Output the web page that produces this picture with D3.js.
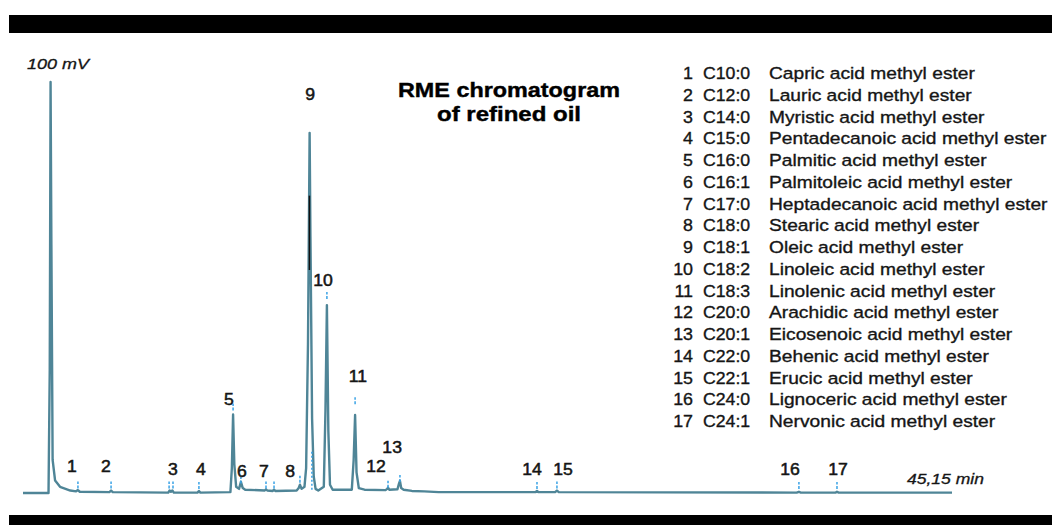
<!DOCTYPE html>
<html><head><meta charset="utf-8">
<script src="https://cdn.jsdelivr.net/npm/d3@7"></script>
<style>
html,body{margin:0;padding:0;background:#fff;}
svg{display:block;}
</style>
</head><body>
<svg id="chart" width="1052" height="525"></svg>
<script>
// ---- data ----
const traceTime = [0, 1.24, 1.30, 1.34, 1.38, 1.44, 1.56, 1.8, 2.3, 2.58, 2.67, 2.76, 4.2, 4.28, 4.36, 7.06, 7.12, 7.19, 7.26, 7.33, 8.48, 8.55, 8.62,
  10.08, 10.15, 10.21, 10.27, 10.36, 10.5, 10.59, 10.68, 10.8, 11.75, 11.81, 11.87, 12.14, 12.2, 12.26, 13.3, 13.4, 13.46, 13.54, 13.68,
  13.76, 13.85, 13.93, 13.97, 14.05, 14.13, 14.22, 14.35, 14.62, 14.7, 14.77, 14.84, 14.92, 15.05, 15.98, 16.07, 16.14, 16.21, 16.32, 16.6,
  17.62, 17.7, 17.74, 17.8, 18.2, 18.27, 18.32, 18.38, 18.5, 18.9, 19.5, 20.2, 24.9, 24.98, 25.06, 25.86, 25.95, 26.04, 37.6, 37.71, 37.8, 39.5, 39.56, 39.64, 45.15];
const traceMv = [0, 0, 30, 99.5, 60, 8, 3, 1.5, 0.6, 0.4, 0.7, 0.3, 0.2, 0.6, 0.2, 0.1, 0.6, 0.3, 0.6, 0.1, 0.1, 0.5, 0.1,
  0.2, 6, 19, 7, 1.5, 1, 2.7, 1.2, 0.8, 0.6, 0.9, 0.6, 0.5, 0.8, 0.5, 0.6, 1.2, 2.0, 1.0, 1.5,
  6, 36, 87.2, 62, 18, 4, 1, 0.6, 1.5, 20, 45.5, 15, 2, 0.8, 0.8, 8, 18.9, 5, 1.2, 0.8,
  0.7, 1.0, 1.3, 0.8, 0.9, 2.2, 2.9, 1.2, 0.8, 0.5, 0.4, 0.2, 0.2, 0.5, 0.2, 0.2, 0.6, 0.2, 0.1, 0.3, 0.1, 0.1, 0.3, 0.1, 0.1];

const peakNumbers = ["1","2","3","4","5","6","7","8","9","10","11","12","13","14","15","16","17"];
const labelTime = [2.38, 4.03, 7.29, 8.65, 10.01, 10.64, 11.71, 12.98, 13.95, 14.58, 16.28, 17.16, 17.94, 24.74, 26.24, 37.28, 39.61];
const labelMv  = [5.1, 5.1, 4.4, 4.4, 21.3, 3.9, 3.9, 3.9, 95.2, 50.1, 26.9, 5.1, 9.7, 4.4, 4.4, 4.4, 4.4];

const markerTime = [2.67, 4.28, 7.10, 7.29, 8.55, 10.21, 10.59, 11.81, 12.20, 13.46, 14.77, 16.14, 17.74, 18.32, 24.98, 25.95, 37.71, 39.56];
const markerMv   = [0.6, 0.6, 0.6, 0.6, 0.5, 19.5, 1.8, 0.6, 0.6, 2.0, 46.5, 21, 0.8, 2.2, 0.5, 0.6, 0.5, 0.5];

const legendCodes = ["C10:0","C12:0","C14:0","C15:0","C16:0","C16:1","C17:0","C18:0","C18:1","C18:2","C18:3","C20:0","C20:1","C22:0","C22:1","C24:0","C24:1"];
const legendNames = ["Capric acid methyl ester","Lauric acid methyl ester","Myristic acid methyl ester","Pentadecanoic acid methyl ester",
  "Palmitic acid methyl ester","Palmitoleic acid methyl ester","Heptadecanoic acid methyl ester","Stearic acid methyl ester",
  "Oleic acid methyl ester","Linoleic acid methyl ester","Linolenic acid methyl ester","Arachidic acid methyl ester",
  "Eicosenoic acid methyl ester","Behenic acid methyl ester","Erucic acid methyl ester","Lignoceric acid methyl ester","Nervonic acid methyl ester"];

const timeDomain = [0, 45.15];
const mvDomain = [0, 100];
const titleLines = ["RME chromatogram", "of refined oil"];
const yUnitLabel = "100 mV";
const xEndLabel = "45,15 min";

// ---- drawing ----
const svg = d3.select("#chart");
const x = d3.scaleLinear().domain(timeDomain).range([23, 952]);
const y = d3.scaleLinear().domain(mvDomain).range([493, 80]);
const FONT = "Liberation Sans, Arial, sans-serif";
const INK = "#151515";

svg.append("rect").attr("x",0).attr("y",0).attr("width",1052).attr("height",525).attr("fill","#fff");
// black frame bars
svg.append("rect").attr("x",9).attr("y",15).attr("width",1043).attr("height",18).attr("fill","#000");
svg.append("rect").attr("x",9).attr("y",515).attr("width",1043).attr("height",10).attr("fill","#000");

const trace = traceTime.map((t,i)=>[t, traceMv[i]]);
svg.append("path").datum(trace)
  .attr("d", d3.line().x(d=>x(d[0])).y(d=>y(d[1])))
  .attr("fill","none").attr("stroke","#4f8597").attr("stroke-width",2.4).attr("stroke-linejoin","round");

// darker integration segment on peak 9
svg.append("line").attr("x1",x(13.92)).attr("x2",x(13.92)).attr("y1",y(72)).attr("y2",y(54))
  .attr("stroke","#111").attr("stroke-width",1.5);

// blue retention markers
svg.append("g").selectAll("line").data(markerTime).join("line")
  .attr("x1",d=>x(d)).attr("x2",d=>x(d))
  .attr("y1",(d,i)=>y(markerMv[i])-2).attr("y2",(d,i)=>y(markerMv[i])-9)
  .attr("stroke","#3aa3e6").attr("stroke-width",1.5).attr("stroke-dasharray","3,1.5");
// dotted blue inside peak 9
svg.append("line").attr("x1",x(14.04)).attr("x2",x(14.04)).attr("y1",y(10)).attr("y2",y(0.5))
  .attr("stroke","#3aa3e6").attr("stroke-width",1.5).attr("stroke-dasharray","2,2");

// peak labels
svg.append("g").selectAll("text").data(peakNumbers).join("text")
  .attr("transform",(d,i)=>`translate(${x(labelTime[i])},${y(labelMv[i])}) scale(1.1,1)`)
  .attr("text-anchor","middle")
  .attr("font-family",FONT).attr("font-size",16)
  .attr("fill",INK).attr("stroke",INK).attr("stroke-width",0.5).text(d=>d);

// unit labels
svg.append("text").attr("x",27).attr("y",69).attr("font-family",FONT)
  .attr("font-size",15).attr("font-style","italic").attr("fill",INK).attr("stroke",INK).attr("stroke-width",0.3)
  .attr("textLength",62).attr("lengthAdjust","spacingAndGlyphs").text(yUnitLabel);
svg.append("text").attr("x",907).attr("y",484).attr("font-family",FONT)
  .attr("font-size",15).attr("font-style","italic").attr("fill",INK).attr("stroke",INK).attr("stroke-width",0.3)
  .attr("textLength",77).attr("lengthAdjust","spacingAndGlyphs").text(xEndLabel);

// title
const titleWidths = [222, 144];
titleLines.forEach((t,i)=>{
  svg.append("text").attr("x",509).attr("y",97+i*24).attr("text-anchor","middle")
    .attr("font-family",FONT).attr("font-weight","bold").attr("font-size",20)
    .attr("textLength",titleWidths[i]).attr("lengthAdjust","spacingAndGlyphs")
    .attr("fill","#000").attr("stroke","#000").attr("stroke-width",0.4).text(t);
});

// legend
const lg = svg.append("g").attr("font-family",FONT).attr("font-size",17)
  .attr("fill",INK).attr("stroke",INK).attr("stroke-width",0.35);
legendCodes.forEach((c,i)=>{
  const yy = 79 + i*21.75;
  lg.append("text").attr("transform",`translate(693,${yy}) scale(1.05,1)`).attr("text-anchor","end").text(peakNumbers[i]);
  lg.append("text").attr("transform",`translate(703,${yy}) scale(1.04,1)`).text(c);
  lg.append("text").attr("transform",`translate(769,${yy}) scale(1.13,1)`).text(legendNames[i]);
});
</script>
</body></html>
